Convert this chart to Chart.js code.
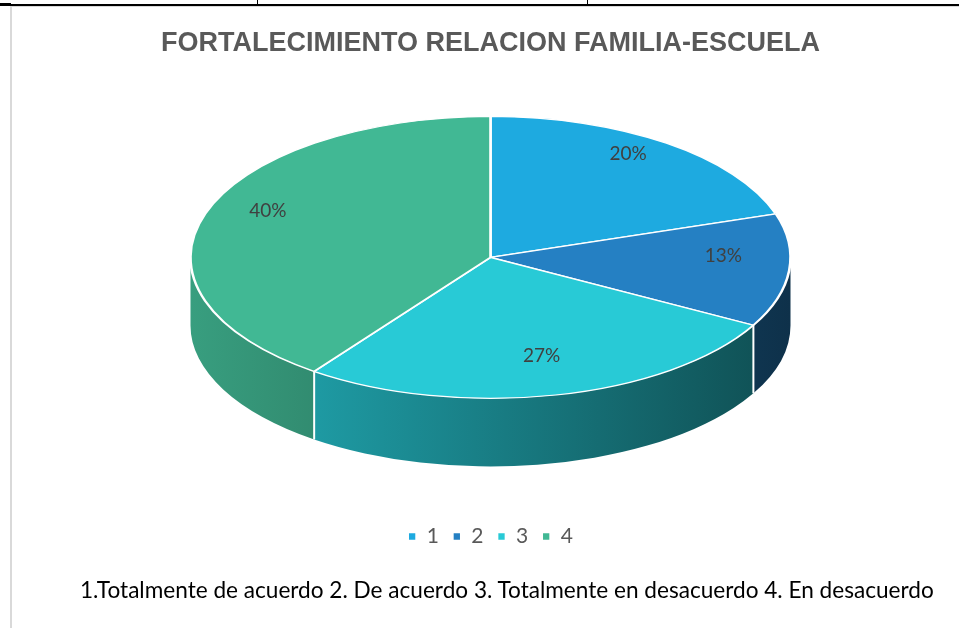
<!DOCTYPE html>
<html>
<head>
<meta charset="utf-8">
<script src="https://cdn.jsdelivr.net/npm/chart.js@4/dist/chart.umd.min.js"></script>
<style>
  html, body { margin: 0; padding: 0; background: #fff; }
  #wrap { position: relative; width: 959px; height: 628px; overflow: hidden; }
  #chart { position: absolute; left: 0; top: 0; }
  .rule { position: absolute; background: #000; }
  .frame { position: absolute; background: #d9d9d9; }
  #note {
    position: absolute; left: 80px; top: 576px; white-space: nowrap;
    font-family: Lato, "Noto Sans", sans-serif; font-size: 22.6px; color: #000;
  }
</style>
</head>
<body>
<div id="wrap">
  <canvas id="chart" width="959" height="628"></canvas>
  <div class="rule" style="left:0;top:4px;width:959px;height:2px"></div>
  <div class="rule" style="left:0;top:3px;width:11px;height:3px"></div>
  <div class="rule" style="left:257px;top:0;width:1px;height:5px"></div>
  <div class="rule" style="left:587px;top:0;width:1px;height:5px"></div>
  <div class="frame" style="left:10px;top:6px;width:949px;height:1px"></div>
  <div class="frame" style="left:10px;top:6px;width:2px;height:622px"></div>
  <div id="note">1.Totalmente de acuerdo 2. De acuerdo 3. Totalmente en desacuerdo 4. En desacuerdo</div>
</div>
<script>
// datos del gráfico
const labels = ['1', '2', '3', '4'];
const values = [20, 13, 27, 40];
const colors = ['#1eaae0', '#2580c3', '#28cad6', '#41b894'];

// forma del pastel 3D (estilo)
const RX = 300, RY = 141, DEPTH = 68;

function shade(hex, f) {
  const n = parseInt(hex.slice(1), 16);
  const r = Math.round(((n >> 16) & 255) * f);
  const g = Math.round(((n >> 8) & 255) * f);
  const b = Math.round((n & 255) * f);
  return `rgb(${r},${g},${b})`;
}

function geom(chart) {
  const arc = chart.getDatasetMeta(0).data[0];
  const a = chart.chartArea;
  return { arc, cx: arc.x, cy: a.top + RY };
}

const pie3d = {
  id: 'pie3d',
  beforeDatasetsDraw(chart) {
    const ctx = chart.ctx;
    const { arc, cx, cy } = geom(chart);
    const arcs = chart.getDatasetMeta(0).data;

    // paredes laterales (mitad frontal)
    arcs.forEach((el, i) => {
      const a0 = Math.max(el.startAngle, 0);
      const a1 = Math.min(el.endAngle, Math.PI);
      if (a0 >= a1) return;
      const grad = ctx.createLinearGradient(cx - RX, 0, cx + RX, 0);
      grad.addColorStop(0, shade(colors[i], 0.86));
      grad.addColorStop(1, shade(colors[i], 0.38));
      ctx.save();
      ctx.beginPath();
      ctx.ellipse(cx, cy, RX, RY, 0, a0, a1, false);
      ctx.ellipse(cx, cy + DEPTH, RX, RY, 0, a1, a0, true);
      ctx.closePath();
      ctx.fillStyle = grad;
      ctx.fill();
      ctx.restore();
    });
    // líneas blancas entre paredes
    arcs.forEach(el => {
      const e = el.endAngle;
      if (e <= 0 || e >= Math.PI) return;
      const x = cx + RX * Math.cos(e), y = cy + RY * Math.sin(e);
      ctx.save();
      ctx.strokeStyle = '#ffffff';
      ctx.lineWidth = 2;
      ctx.beginPath();
      ctx.moveTo(x, y);
      ctx.lineTo(x, y + DEPTH);
      ctx.stroke();
      ctx.restore();
    });

    // cara superior: aplastar el círculo en elipse
    const r = arc.outerRadius;
    ctx.save();
    ctx.translate(cx, cy);
    ctx.scale(RX / r, RY / r);
    ctx.translate(-arc.x, -arc.y);
  },
  afterDatasetsDraw(chart) {
    const ctx = chart.ctx;
    ctx.restore();
    const { cx, cy } = geom(chart);
    const arcs = chart.getDatasetMeta(0).data;
    const total = values.reduce((s, v) => s + v, 0);
    ctx.save();
    ctx.font = '19px Lato, "Noto Sans", sans-serif';
    ctx.fillStyle = '#404040';
    ctx.textAlign = 'center';
    ctx.textBaseline = 'middle';
    arcs.forEach((el, i) => {
      const mid = (el.startAngle + el.endAngle) / 2;
      const x = cx + RX * 0.78 * Math.cos(mid);
      const y = cy - 12 + RY * 0.8 * Math.sin(mid);
      ctx.fillText(Math.round(values[i] / total * 100) + '%', x, y);
    });
    ctx.restore();
  },
};

new Chart(document.getElementById('chart'), {
  type: 'pie',
  data: {
    labels,
    datasets: [{
      data: values,
      backgroundColor: colors,
      borderColor: '#ffffff',
      borderWidth: 1.7,
    }],
  },
  options: {
    responsive: false,
    animation: false,
    layout: { padding: { left: 22, right: 0, top: 0, bottom: 71 } },
    plugins: {
      title: {
        display: true,
        text: 'FORTALECIMIENTO RELACION FAMILIA-ESCUELA',
        color: '#595959',
        font: { family: '"Liberation Sans", Arial, sans-serif', size: 27, weight: 'bold' },
        padding: { top: 27, bottom: 57 },
      },
      legend: {
        position: 'bottom',
        labels: {
          color: '#595959',
          font: { family: 'Lato, "Noto Sans", sans-serif', size: 21 },
          boxWidth: 8, boxHeight: 8, padding: 14,
        },
      },
      tooltip: { enabled: false },
    },
  },
  plugins: [pie3d],
});
</script>
</body>
</html>
